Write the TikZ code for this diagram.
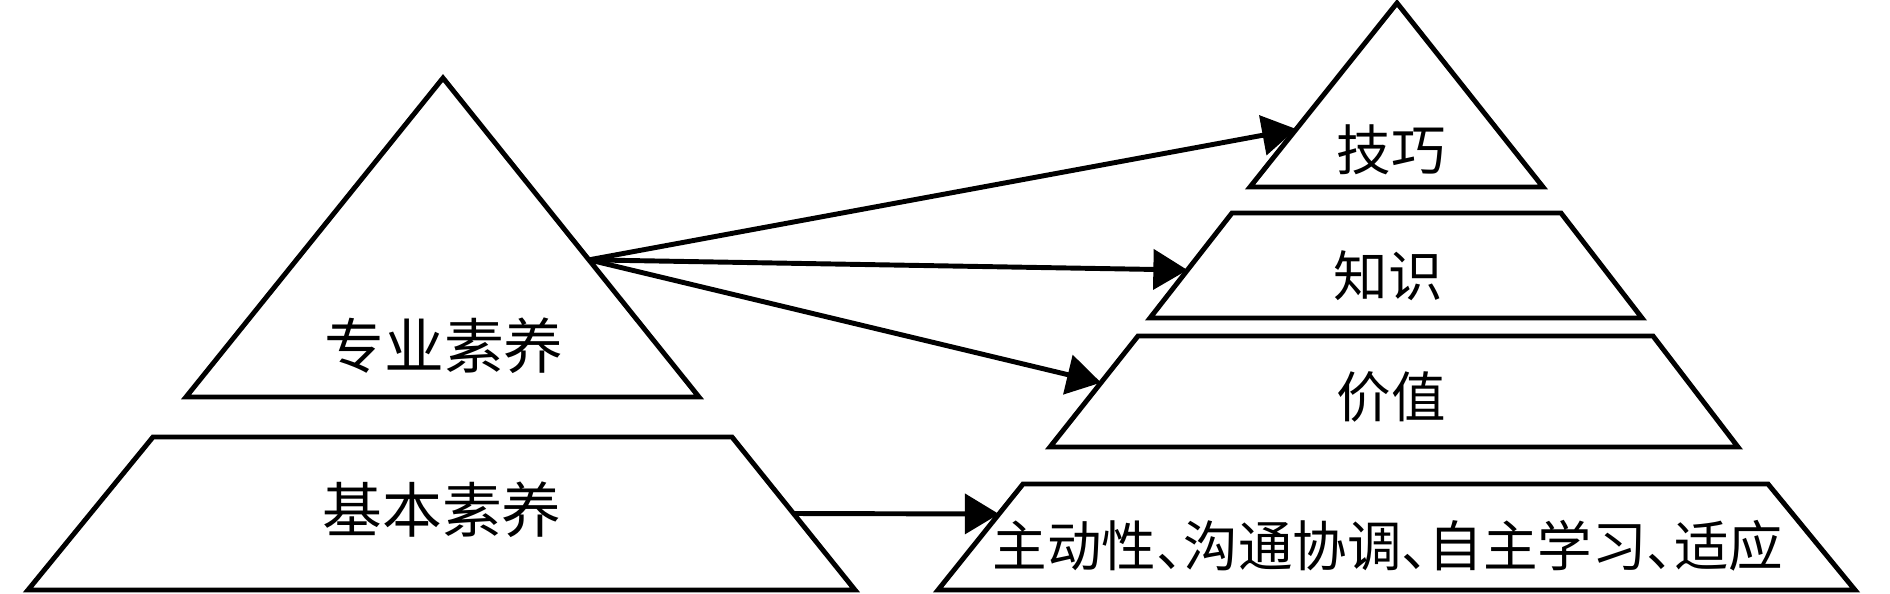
\documentclass[tikz,border=0pt]{standalone}
\usepackage{fontspec}
\newfontfamily\cjk{Noto Sans CJK SC}
\usetikzlibrary{arrows.meta,calc}
\newcommand\dun{\makebox[0.5em][l]{、}}
\tikzset{
  layer/.style={draw=black,line width=1.4pt,line join=miter},
  link/.style={-{Triangle[length=9.7pt,width=11.3pt]},line width=1.4pt},
  bigtxt/.style={font=\cjk\fontsize{17}{20}\selectfont,inner sep=0pt},
  smalltxt/.style={font=\cjk\fontsize{15.5}{18}\selectfont,inner sep=0pt}
}

\begin{document}
\begin{tikzpicture}[x=0.01cm,y=-0.01cm]
  \fill[white] (0,0) rectangle (1890,593);
  \useasboundingbox (0,0) rectangle (1890,593);

  % left pyramid
  \coordinate (lA) at (443,78);
  \coordinate (lB) at (186,397);
  \coordinate (lC) at (699,397);
  \coordinate (bTL) at (153,437);
  \coordinate (bTR) at (732,437);
  \coordinate (bBR) at (855,590);
  \coordinate (bBL) at (28,590);
  \draw[layer] (lA) -- (lB) -- (lC) -- cycle;
  \draw[layer] (bTL) -- (bTR) -- (bBR) -- (bBL) -- cycle;

  \node[bigtxt] (zhuanye) at (444,346) {专业素养};
  \node[bigtxt] (jiben) at (442,510) {基本素养};

  % right pyramid
  \coordinate (rA) at (1397,3);
  \coordinate (rB) at (1250,187);
  \coordinate (rC) at (1543,187);
  \draw[layer] (rA) -- (rB) -- (rC) -- cycle;
  \coordinate (k1) at (1232,213);
  \coordinate (k2) at (1150,318);
  \draw[layer] (k1) -- (1561,213) -- (1642,318) -- (k2) -- cycle;
  \coordinate (v1) at (1138,336);
  \coordinate (v2) at (1050,447);
  \draw[layer] (v1) -- (1653,336) -- (1738,447) -- (v2) -- cycle;
  \coordinate (n1) at (1023,484);
  \coordinate (n2) at (938,590);
  \draw[layer] (n1) -- (1768,484) -- (1855,590) -- (n2) -- cycle;

  \node[smalltxt] (jiqiao) at (1391,150) {技巧};
  \node[smalltxt] (zhishi) at (1388,276) {知识};
  \node[smalltxt] (jiazhi) at (1391,397) {价值};
  \node[smalltxt] (nengli) at (1388,546) {主动性\dun 沟通协调\dun 自主学习\dun 适应};

  % links
  \coordinate (src) at ($(lA)!0.57!(lC)$);
  \coordinate (src2) at ($(bTR)!0.5!(bBR)$);
  \coordinate (t1) at ($(rA)!0.685!(rB)$);
  \coordinate (t2) at ($(k1)!0.543!(k2)$);
  \coordinate (t3) at ($(v1)!0.42!(v2)$);
  \coordinate (t4) at ($(n1)!0.283!(n2)$);
  \draw[link] (src) -- (t1);
  \draw[link] (src) -- (t2);
  \draw[link] (src) -- (t3);
  \draw[link] (src2) -- (t4);
\end{tikzpicture}
\end{document}
